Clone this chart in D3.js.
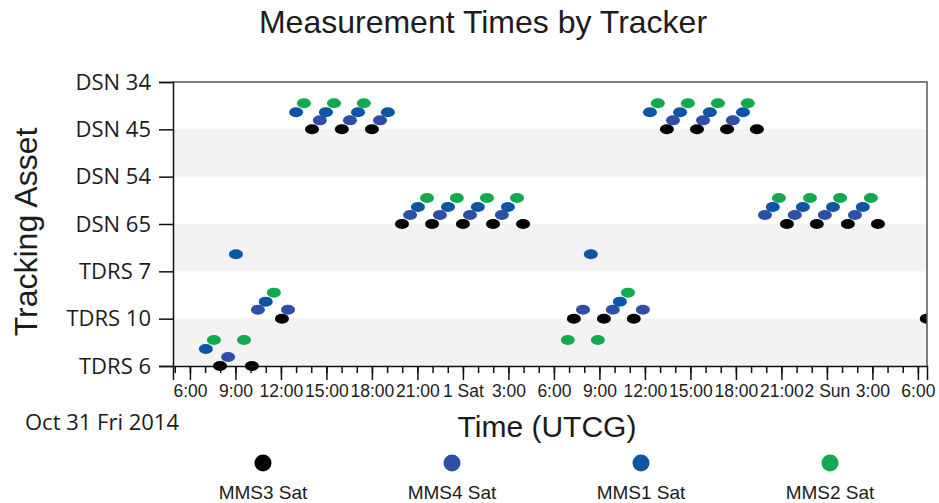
<!DOCTYPE html>
<html>
<head>
<meta charset="utf-8">
<script src="https://cdn.jsdelivr.net/npm/d3@7"></script>
<style>
  body { margin: 0; background: #fff; }
  text { fill: #1c1c1c; }
</style>
</head>
<body>
<div id="chart"></div>
<script>
// tracking assets, top to bottom
const assets = ["DSN 34", "DSN 45", "DSN 54", "DSN 65", "TDRS 7", "TDRS 10", "TDRS 6"];
const seriesNames = ["MMS3 Sat", "MMS4 Sat", "MMS1 Sat", "MMS2 Sat"];
const seriesColors = ["#000000", "#2f4fa6", "#0b55a6", "#13a94d"];

// measurement times per satellite: [asset, time UTCG]
const mms3 = [
  ["DSN 45", "2014-10-31T14:03"], ["DSN 45", "2014-10-31T16:01"], ["DSN 45", "2014-10-31T18:00"],
  ["DSN 45", "2014-11-01T13:27"], ["DSN 45", "2014-11-01T15:26"], ["DSN 45", "2014-11-01T17:25"], ["DSN 45", "2014-11-01T19:23"],
  ["DSN 65", "2014-10-31T19:59"], ["DSN 65", "2014-10-31T21:58"], ["DSN 65", "2014-11-01T00:00"], ["DSN 65", "2014-11-01T01:59"], ["DSN 65", "2014-11-01T03:58"],
  ["DSN 65", "2014-11-01T21:22"], ["DSN 65", "2014-11-01T23:20"], ["DSN 65", "2014-11-02T01:23"], ["DSN 65", "2014-11-02T03:22"],
  ["TDRS 10", "2014-10-31T12:04"],
  ["TDRS 10", "2014-11-01T07:19"], ["TDRS 10", "2014-11-01T09:18"], ["TDRS 10", "2014-11-01T11:16"], ["TDRS 10", "2014-11-02T06:35"],
  ["TDRS 6", "2014-10-31T07:59"], ["TDRS 6", "2014-10-31T10:05"]
];
const mms4 = [
  ["DSN 45", "2014-10-31T14:34"], ["DSN 45", "2014-10-31T16:33"], ["DSN 45", "2014-10-31T18:32"],
  ["DSN 45", "2014-11-01T13:51"], ["DSN 45", "2014-11-01T15:50"], ["DSN 45", "2014-11-01T17:48"],
  ["DSN 65", "2014-10-31T20:31"], ["DSN 65", "2014-10-31T22:29"], ["DSN 65", "2014-11-01T00:28"], ["DSN 65", "2014-11-01T02:34"],
  ["DSN 65", "2014-11-01T19:55"], ["DSN 65", "2014-11-01T21:53"], ["DSN 65", "2014-11-01T23:52"], ["DSN 65", "2014-11-02T01:51"],
  ["TDRS 10", "2014-10-31T10:29"], ["TDRS 10", "2014-10-31T12:28"],
  ["TDRS 10", "2014-11-01T07:55"], ["TDRS 10", "2014-11-01T09:53"], ["TDRS 10", "2014-11-01T11:52"],
  ["TDRS 6", "2014-10-31T08:31"]
];
const mms1 = [
  ["DSN 45", "2014-10-31T13:00"], ["DSN 45", "2014-10-31T14:58"], ["DSN 45", "2014-10-31T17:05"], ["DSN 45", "2014-10-31T19:03"],
  ["DSN 45", "2014-11-01T12:20"], ["DSN 45", "2014-11-01T14:19"], ["DSN 45", "2014-11-01T16:17"], ["DSN 45", "2014-11-01T18:28"],
  ["DSN 65", "2014-10-31T21:02"], ["DSN 65", "2014-10-31T23:01"], ["DSN 65", "2014-11-01T00:59"], ["DSN 65", "2014-11-01T02:58"],
  ["DSN 65", "2014-11-01T20:26"], ["DSN 65", "2014-11-01T22:25"], ["DSN 65", "2014-11-02T00:24"], ["DSN 65", "2014-11-02T02:22"],
  ["TDRS 7", "2014-10-31T09:02"], ["TDRS 7", "2014-11-01T08:26"],
  ["TDRS 10", "2014-10-31T11:00"], ["TDRS 10", "2014-11-01T10:21"],
  ["TDRS 6", "2014-10-31T07:03"]
];
const mms2 = [
  ["DSN 45", "2014-10-31T13:31"], ["DSN 45", "2014-10-31T15:30"], ["DSN 45", "2014-10-31T17:28"],
  ["DSN 45", "2014-11-01T12:51"], ["DSN 45", "2014-11-01T14:50"], ["DSN 45", "2014-11-01T16:49"], ["DSN 45", "2014-11-01T18:47"],
  ["DSN 65", "2014-10-31T21:38"], ["DSN 65", "2014-10-31T23:36"], ["DSN 65", "2014-11-01T01:35"], ["DSN 65", "2014-11-01T03:34"],
  ["DSN 65", "2014-11-01T20:50"], ["DSN 65", "2014-11-01T22:53"], ["DSN 65", "2014-11-02T00:52"], ["DSN 65", "2014-11-02T02:54"],
  ["TDRS 10", "2014-10-31T11:32"], ["TDRS 10", "2014-11-01T10:53"],
  ["TDRS 6", "2014-10-31T07:35"], ["TDRS 6", "2014-10-31T09:34"],
  ["TDRS 6", "2014-11-01T06:55"], ["TDRS 6", "2014-11-01T08:54"]
];
const seriesData = [mms3, mms4, mms1, mms2];
const timeRange = ["2014-10-31T04:53", "2014-11-02T06:36"];

const width = 939, height = 503;
const margin = {top: 82, right: 12, bottom: 137, left: 173};
const parse = d3.utcParse("%Y-%m-%dT%H:%M");

const svg = d3.select("#chart").append("svg")
  .attr("width", width)
  .attr("height", height)
  .style("font-family", "'Liberation Sans', Arial, sans-serif");

const x = d3.scaleUtc()
  .domain(timeRange.map(parse))
  .range([margin.left, width - margin.right]);

const y = d3.scalePoint()
  .domain(assets)
  .range([margin.top, height - margin.bottom]);

// small vertical shift per satellite so the markers step upward
const seriesShift = [0, 0.19, 0.36, 0.55];

// alternating band shading
svg.append("g").selectAll("rect")
  .data(assets.filter((d, i) => i % 2 === 1 && i < assets.length - 1))
  .join("rect")
  .attr("x", margin.left)
  .attr("width", x.range()[1] - margin.left)
  .attr("y", d => y(d))
  .attr("height", y.step())
  .attr("fill", "#f3f3f3");

svg.append("clipPath").attr("id", "plot-clip")
  .append("rect")
  .attr("x", margin.left).attr("y", margin.top - 20)
  .attr("width", x.range()[1] - margin.left)
  .attr("height", y.range()[1] - margin.top + 30);

// markers
const marks = svg.append("g").attr("clip-path", "url(#plot-clip)");
seriesData.forEach((rows, si) => {
  marks.append("g").selectAll("ellipse")
    .data(rows)
    .join("ellipse")
    .attr("cx", d => x(parse(d[1])))
    .attr("cy", d => y(d[0]) - seriesShift[si] * y.step())
    .attr("rx", 7)
    .attr("ry", 5)
    .attr("fill", seriesColors[si]);
});

// frame (top and right in gray)
svg.append("path")
  .attr("d", `M${margin.left},${margin.top}H${x.range()[1]}V${y.range()[1]}`)
  .attr("fill", "none")
  .attr("stroke", "#555")
  .attr("stroke-width", 1.5);

// x axis: minor hourly ticks + major 3-hourly ticks
const xMinor = svg.append("g")
  .attr("transform", `translate(0,${y.range()[1]})`)
  .call(d3.axisBottom(x).ticks(d3.utcHour.every(1)).tickSize(7).tickFormat(""));
xMinor.select(".domain").remove();
xMinor.selectAll("line").attr("stroke", "#111").attr("stroke-width", 1.5);

const fmtTick = d => d.getUTCHours() === 0 ? d3.utcFormat("%-d %a")(d) : d3.utcFormat("%-H:%M")(d);
const xMajor = svg.append("g")
  .attr("transform", `translate(0,${y.range()[1]})`)
  .call(d3.axisBottom(x).ticks(d3.utcHour.every(3)).tickSize(14).tickPadding(5).tickFormat(fmtTick));
xMajor.select(".domain").attr("stroke", "#111").attr("stroke-width", 1.5);
xMajor.selectAll("line").attr("stroke", "#111").attr("stroke-width", 1.5);
xMajor.selectAll("text")
  .attr("font-size", 17.5)
  .attr("font-family", "'Liberation Sans', Arial, sans-serif")
  .attr("fill", "#1c1c1c");

// y axis
const yAxis = svg.append("g")
  .attr("transform", `translate(${margin.left},0)`)
  .call(d3.axisLeft(y).tickSize(14).tickPadding(8));
yAxis.select(".domain").attr("stroke", "#111").attr("stroke-width", 1.5);
yAxis.selectAll("line").attr("stroke", "#111").attr("stroke-width", 1.5);
yAxis.selectAll("text")
  .attr("font-size", 22)
  .attr("font-family", "'Open Sans', sans-serif")
  .attr("fill", "#1c1c1c");

// titles
svg.append("text")
  .attr("x", 483).attr("y", 33)
  .attr("text-anchor", "middle")
  .attr("font-size", 32)
  .text("Measurement Times by Tracker");

svg.append("text")
  .attr("transform", "translate(37,232) rotate(-90)")
  .attr("text-anchor", "middle")
  .attr("font-size", 32)
  .text("Tracking Asset");

svg.append("text")
  .attr("x", 547).attr("y", 437)
  .attr("text-anchor", "middle")
  .attr("font-size", 30)
  .text("Time (UTCG)");

svg.append("text")
  .attr("x", 25).attr("y", 430)
  .attr("font-size", 22)
  .attr("font-family", "'Open Sans', sans-serif")
  .text("Oct 31 Fri 2014");

// legend
const lx = d3.scalePoint().domain(seriesNames).range([263, 830]);
const legend = svg.append("g").selectAll("g")
  .data(seriesNames)
  .join("g")
  .attr("transform", d => `translate(${lx(d)},0)`);
legend.append("circle")
  .attr("cy", 463)
  .attr("r", 8.5)
  .attr("fill", (d, i) => seriesColors[i]);
legend.append("text")
  .attr("y", 499)
  .attr("text-anchor", "middle")
  .attr("font-size", 19)
  .text(d => d);
</script>
</body>
</html>
